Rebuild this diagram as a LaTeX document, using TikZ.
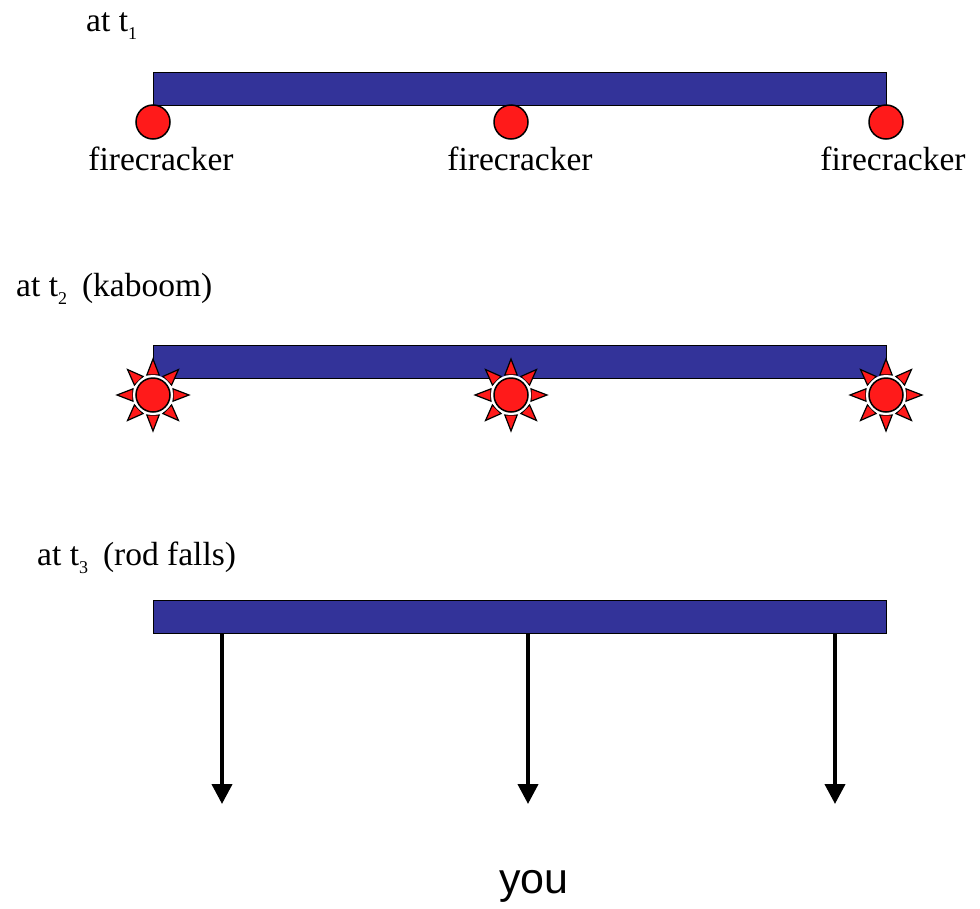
\documentclass[tikz,border=0pt]{standalone}
\usepackage{fontspec}
\usetikzlibrary{arrows.meta,calc}
\setmainfont{Liberation Serif}
\newfontfamily\sansf{Liberation Sans}
\definecolor{rodblue}{HTML}{333399}
\definecolor{firered}{HTML}{FF1A1A}
\newcommand{\tsub}[1]{\raisebox{-8pt}{\fontsize{18}{18}\selectfont #1}}
\begin{document}
\begin{tikzpicture}[x=1pt,y=-1pt,
  rod/.style={draw=black,line width=1.2pt,fill=rodblue,minimum width=733pt,minimum height=33pt,inner sep=0,anchor=north west},
  cracker/.style={circle,draw=black,line width=1.5pt,fill=firered,minimum size=34pt,inner sep=0},
  lbl/.style={anchor=base west,inner sep=0,font=\fontsize{33.5}{38}\selectfont},
  fc/.style={anchor=base,inner sep=0,font=\fontsize{33.5}{38}\selectfont},
  spike/.style={draw=black,line width=1.2pt,fill=firered,line join=miter},
  fall/.style={line width=4pt,-{Triangle[length=20pt,width=20pt]}}]
\useasboundingbox (0,0) rectangle (980,908);
% labels
\node[lbl] (l1) at (86,31) {at t\tsub{1}};
\node[lbl] (l2) at (16,296) {at t\tsub{2}\hspace{15pt}(kaboom)};
\node[lbl] (l3) at (37,565) {at t\tsub{3}\hspace{15pt}(rod falls)};
% row 1
\node[rod] (r1) at (153,72) {};
\foreach \x/\n in {153/a,511/b,886/c}{\node[cracker] (c1\n) at (\x,122) {};}
\node[fc] (f1) at (161,170) {firecracker};
\node[fc] (f2) at (520,170) {firecracker};
\node[fc] (f3) at (893,170) {firecracker};
% row 2
\node[rod] (r2) at (153,345) {};
\foreach \x/\n in {153/a,511/b,886/c}{
  \foreach \a in {0,45,...,315}{
    \draw[spike] ($(\x,395)+(\a:36)$) -- ($(\x,395)+(\a+17:21)$) -- ($(\x,395)+(\a-17:21)$) -- cycle;
  }
  \fill[white] (\x,395) circle (20);
  \node[cracker] (c2\n) at (\x,395) {};
}
% row 3
\node[rod] (r3) at (153,600) {};
\foreach \x/\n in {222/a,528/b,835/c}{
  \coordinate (s\n) at (\x,634);
  \coordinate (e\n) at (\x,804);
  \draw[fall] (s\n) -- (e\n);
}
\node[anchor=base,inner sep=0,font=\sansf\fontsize{43}{50}\selectfont] (you) at (534,893) {you};
\end{tikzpicture}
\end{document}
